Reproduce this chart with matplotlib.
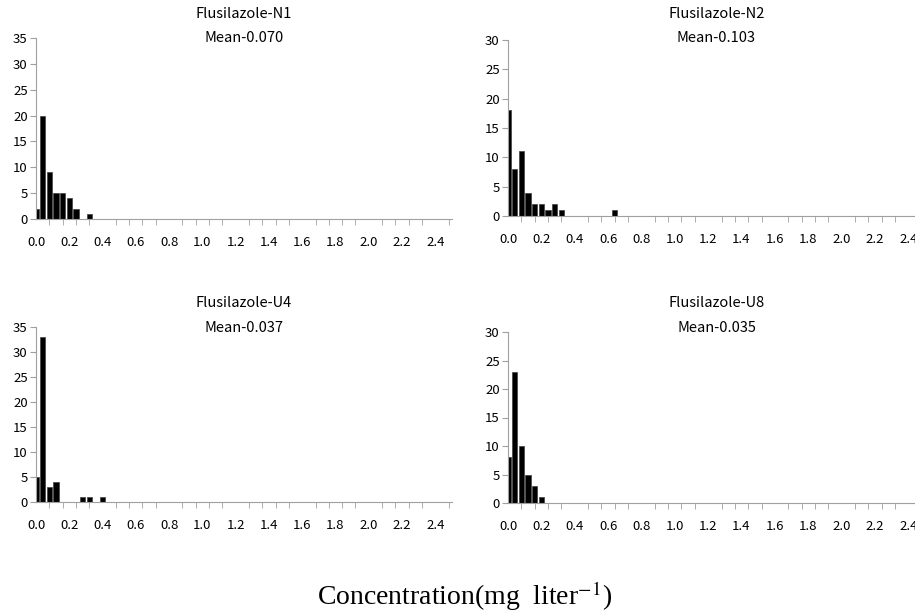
import numpy as np
import matplotlib
matplotlib.use("Agg")
import matplotlib.pyplot as plt

plt.rcParams["mathtext.fontset"] = "stix"

# histogram bins (mg/L), 0.04 wide
bins = np.round(np.arange(63) * 0.04, 2)
tick_labels = ["0.0", "0.2", "0.4", "0.6", "0.8", "1.0", "1.2", "1.4",
               "1.6", "1.8", "2.0", "2.2", "2.4"]

n1 = [2, 20, 9, 5, 5, 4, 2, 0, 1]
n2 = [18, 8, 11, 4, 2, 2, 1, 2, 1, 0, 0, 0, 0, 0, 0, 0, 1]
u4 = [5, 33, 3, 4, 0, 0, 0, 1, 1, 0, 1]
u8 = [8, 23, 10, 5, 3, 1]

names = ["Flusilazole-N1", "Flusilazole-N2", "Flusilazole-U4", "Flusilazole-U8"]
means = ["Mean-0.070", "Mean-0.103", "Mean-0.037", "Mean-0.035"]
ymax = [35, 30, 35, 30]

W, H = 915, 612
fig = plt.figure(figsize=(W / 100, H / 100), dpi=100)
lab_font = ["Noto Sans CJK KR", "DejaVu Sans"]

# axes boxes in pixels: left, top, right, bottom
boxes = [(36, 38, 452, 219), (508, 40, 925, 216),
         (36, 327, 452, 502), (508, 332, 925, 503)]
title_y = [(14, 38), (14, 38), (303, 328), (303, 328)]

for i, counts in enumerate([n1, n2, u4, u8]):
    l, t, r, b = boxes[i]
    ax = fig.add_axes([l / W, 1 - b / H, (r - l) / W, (b - t) / H])
    vals = np.zeros(len(bins))
    vals[:len(counts)] = counts
    idx = np.arange(len(bins))
    ax.bar(idx, vals, width=0.8, color="black", edgecolor="#404040", linewidth=0.5)
    ax.set_xlim(0, len(bins) - 0.5)
    ax.set_ylim(0, ymax[i])
    ax.set_yticks(np.arange(0, ymax[i] + 1, 5))
    ax.set_xticks(idx[::5][:len(tick_labels)])
    ax.set_xticklabels(tick_labels)
    ax.set_xticks(idx[::2], minor=True)
    ax.tick_params(axis="x", which="major", length=0, pad=12, labelsize=9.5)
    ax.tick_params(axis="x", which="minor", length=4, color="#a0a0a0")
    ax.tick_params(axis="y", length=4, color="#a0a0a0", labelsize=9.5, pad=2)
    for lbl in ax.get_xticklabels() + ax.get_yticklabels():
        lbl.set_family(lab_font)
    for s in ["top", "right"]:
        ax.spines[s].set_visible(False)
    ax.spines["left"].set_color("#a0a0a0")
    ax.spines["bottom"].set_color("#a0a0a0")
    cx = (l + min(r, 925)) / 2
    fig.text(cx / W, 1 - title_y[i][0] / H, names[i], ha="center", va="center",
             fontsize=10.5, family=lab_font)
    fig.text(cx / W, 1 - title_y[i][1] / H, means[i], ha="center", va="center",
             fontsize=10.5, family=lab_font)

fig.text(465 / W, 1 - 596 / H, "Concentration(mg  liter$^{-1}$)", ha="center",
         va="center", fontsize=20, family="Liberation Serif")

fig.savefig("out.png", dpi=100)
